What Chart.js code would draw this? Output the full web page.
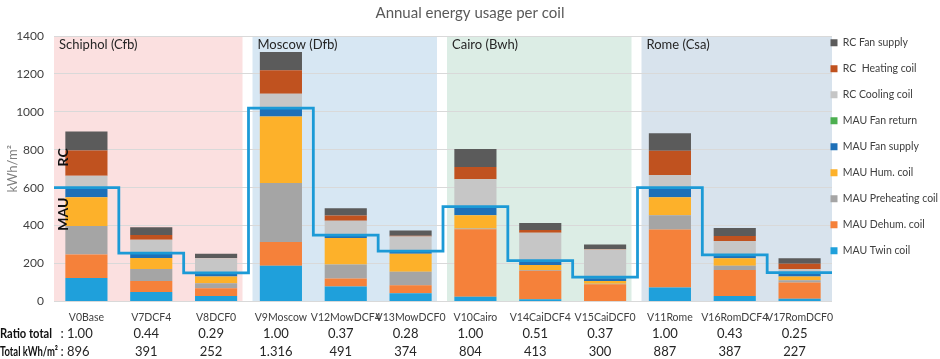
<!DOCTYPE html>
<html><head><meta charset="utf-8">
<script src="https://cdn.jsdelivr.net/npm/chart.js@4/dist/chart.umd.min.js"></script>
<style>html,body{margin:0;padding:0;background:#fff;}#wrap{width:940px;height:359px;position:relative;}</style>
</head><body><div id="wrap"><canvas id="c"></canvas></div>
<script>
const categories = ['V0Base','V7DCF4','V8DCF0','V9Moscow','V12MowDCF4','V13MowDCF0','V10Cairo','V14CaiDCF4','V15CaiDCF0','V11Rome','V16RomDCF4','V17RomDCF0'];
const mauTwinCoil       = [123, 50, 28, 188, 78, 43,  25,  11,   2,  73,  28, 14];
const mauDehumCoil      = [125, 58, 41, 125, 43, 42, 355, 151,  89, 306, 137, 86];
const mauPreheatingCoil = [150, 63, 27, 311, 73, 71,   5,   3,   2,  76,  23, 12];
const mauHumCoil        = [152, 58, 35, 352,140, 95,  70,  27,  15,  94,  39, 19];
const mauFanSupply      = [ 45, 24, 17,  40, 14, 10,  40,  20,  14,  45,  15, 15];
const mauFanReturn      = [  3,  2,  2,   4,  2,  2,   3,   2,   2,   3,   2,  2];
const rcCoolingCoil     = [ 65, 70, 77,  75, 75, 80, 147, 148, 150,  70,  74, 23];
const rcHeatingCoil     = [133, 25,  2, 124, 28,  3,  64,  14,   2, 128,  27, 28];
const rcFanSupply       = [100, 41, 23,  97, 38, 28,  95,  37,  24,  92,  42, 28];
const mauTotalLine      = [600,255,150,1020,350,265, 500, 215, 128, 600, 245,152];
const ratioTotal = ['1.00','0.44','0.29','1.00','0.37','0.28','1.00','0.51','0.37','1.00','0.43','0.25'];
const totalKWh   = ['896','391','252','1.316','491','374','804','413','300','887','387','227'];
const climateGroups = ['Schiphol (Cfb)','Moscow (Dfb)','Cairo (Bwh)','Rome (Csa)'];
const groupFirstIndex = [0, 3, 6, 9];
const groupColors = ['#fbe0e0','#d7e7f3','#dcede5','#d8e3ed'];
const yMax = 1400, yStep = 200;

const FONT = 'Lato, "Liberation Sans", sans-serif';
Chart.defaults.font.family = FONT;

const seriesDefs = [
  ['MAU Twin coil', mauTwinCoil, '#1fa0db'],
  ['MAU Dehum. coil', mauDehumCoil, '#f5813a'],
  ['MAU Preheating coil', mauPreheatingCoil, '#a5a5a5'],
  ['MAU Hum. coil', mauHumCoil, '#fdb12a'],
  ['MAU Fan supply', mauFanSupply, '#1e70b8'],
  ['MAU Fan return', mauFanReturn, '#4caf50'],
  ['RC Cooling coil', rcCoolingCoil, '#c6c6c6'],
  ['RC  Heating coil', rcHeatingCoil, '#c0521f'],
  ['RC Fan supply', rcFanSupply, '#5b5b5b']
];
const datasets = seriesDefs.map(([label, data, color]) => ({
  type: 'bar', label, data, backgroundColor: color, borderWidth: 0,
  stack: 'coils', order: 1, grouped: false, barPercentage: 0.65, categoryPercentage: 1
}));
const linePts = mauTotalLine.map((v, i) => ({x: i - 0.5, y: v}));
linePts.push({x: categories.length - 0.5, y: mauTotalLine[mauTotalLine.length - 1]});
datasets.push({
  type: 'line', label: 'MAU total', data: linePts, xAxisID: 'x2', stack: 'line',
  borderColor: '#1c9ad6', borderWidth: 2.8, pointRadius: 0, stepped: 'before', fill: false, order: 0
});

const decorPlugin = {
  id: 'decor',
  beforeLayout(chart) {
    const lg = chart.legend;
    if (lg && !lg._patched) {
      const f = lg.fit;
      lg.fit = function () { f.call(this); this.width = 108; };
      lg._patched = true;
    }
  },
  afterLayout(chart) {
    const lg = chart.legend, a = chart.chartArea;
    if (lg) {
      const h = lg.bottom - lg.top;
      lg.top = a.top - 14; lg.bottom = lg.top + h;
      lg.left = a.right - 17; lg.right = 940;
    }
  },
  beforeDraw(chart) {
    const {ctx, chartArea: a, scales: {x}} = chart;
    const w = x.getPixelForValue(1) - x.getPixelForValue(0);
    ctx.save();
    groupFirstIndex.forEach((s, gi) => {
      const l = gi === 0 ? a.left : x.getPixelForValue(s) - w / 2 + 4;
      const last = gi === groupFirstIndex.length - 1;
      const r = last ? a.right : x.getPixelForValue(groupFirstIndex[gi + 1]) - w / 2 - 6;
      ctx.fillStyle = groupColors[gi];
      ctx.fillRect(l, a.top, r - l, a.bottom - a.top);
    });
    ctx.restore();
  },
  afterDraw(chart) {
    const {ctx, chartArea: a, scales: {x, y}} = chart;
    const w = x.getPixelForValue(1) - x.getPixelForValue(0);
    ctx.save();
    ctx.font = '13px ' + FONT;
    ctx.fillStyle = '#262626';
    ctx.textBaseline = 'middle';
    ctx.textAlign = 'left';
    groupFirstIndex.forEach((s, gi) => {
      const l = gi === 0 ? a.left : x.getPixelForValue(s) - w / 2 + 4;
      ctx.fillText(climateGroups[gi], l + 5, a.top + 9);
    });
    ctx.font = 'bold 14px ' + FONT;
    ctx.fillStyle = '#111';
    ctx.textAlign = 'center';
    [['RC', 760], ['MAU', 460]].forEach(([t, v]) => {
      ctx.save();
      ctx.translate(a.left + 9, y.getPixelForValue(v));
      ctx.rotate(-Math.PI / 2);
      ctx.fillText(t, 0, 0);
      ctx.restore();
    });
    const y1 = a.bottom + 32, y2 = a.bottom + 50;
    ctx.font = 'bold 13px ' + FONT;
    ctx.fillStyle = '#111';
    ctx.textAlign = 'left';
    ctx.fillText('Ratio total', 0, y1, 52);
    ctx.fillText('Total kWh/m²', 0, y2, 58);
    ctx.font = '13px ' + FONT;
    ctx.fillStyle = '#262626';
    categories.forEach((c, i) => {
      const px = x.getPixelForValue(i);
      if (i === 0) {
        ctx.textAlign = 'left';
        ctx.fillText(': ' + ratioTotal[i], px - 26, y1);
        ctx.fillText(': ' + totalKWh[i], px - 26, y2);
      } else {
        ctx.textAlign = 'center';
        ctx.fillText(ratioTotal[i], px - 5, y1);
        ctx.fillText(totalKWh[i], px - 5, y2);
      }
    });
    ctx.restore();
  }
};

new Chart(document.getElementById('c'), {
  data: {labels: categories, datasets},
  options: {
    responsive: true, maintainAspectRatio: false, animation: false,
    layout: {padding: {bottom: 25, left: 0, right: 0, top: 0}},
    plugins: {
      title: {display: true, text: 'Annual energy usage per coil', color: '#595959',
        font: {size: 15, weight: 'normal'}, padding: {top: 4, bottom: 14}},
      legend: {position: 'right', align: 'start', reverse: true,
        labels: {boxWidth: 7, boxHeight: 7, padding: 15.5, color: '#404040', font: {size: 10.5},
          filter: (item) => item.datasetIndex < seriesDefs.length}},
      tooltip: {enabled: false}
    },
    scales: {
      x: {stacked: true, grid: {display: false, drawTicks: false}, border: {display: false},
        ticks: {color: '#404040', font: {size: 10.5}, maxRotation: 0, autoSkip: false, padding: 10}},
      x2: {type: 'linear', display: false, min: -0.5, max: categories.length - 0.5},
      y: {stacked: true, min: 0, max: yMax, grid: {color: '#d9d9d9', drawTicks: false}, border: {display: false},
        ticks: {stepSize: yStep, color: '#404040', font: {size: 12}, padding: 10, callback: (v) => String(v)},
        title: {display: true, text: 'kWh/m²', color: '#7f7f7f', font: {size: 13}, padding: {top: 5, bottom: 0}},
        afterFit: (s) => { s.width = 54; }}
    }
  },
  plugins: [decorPlugin]
});
</script></body></html>
